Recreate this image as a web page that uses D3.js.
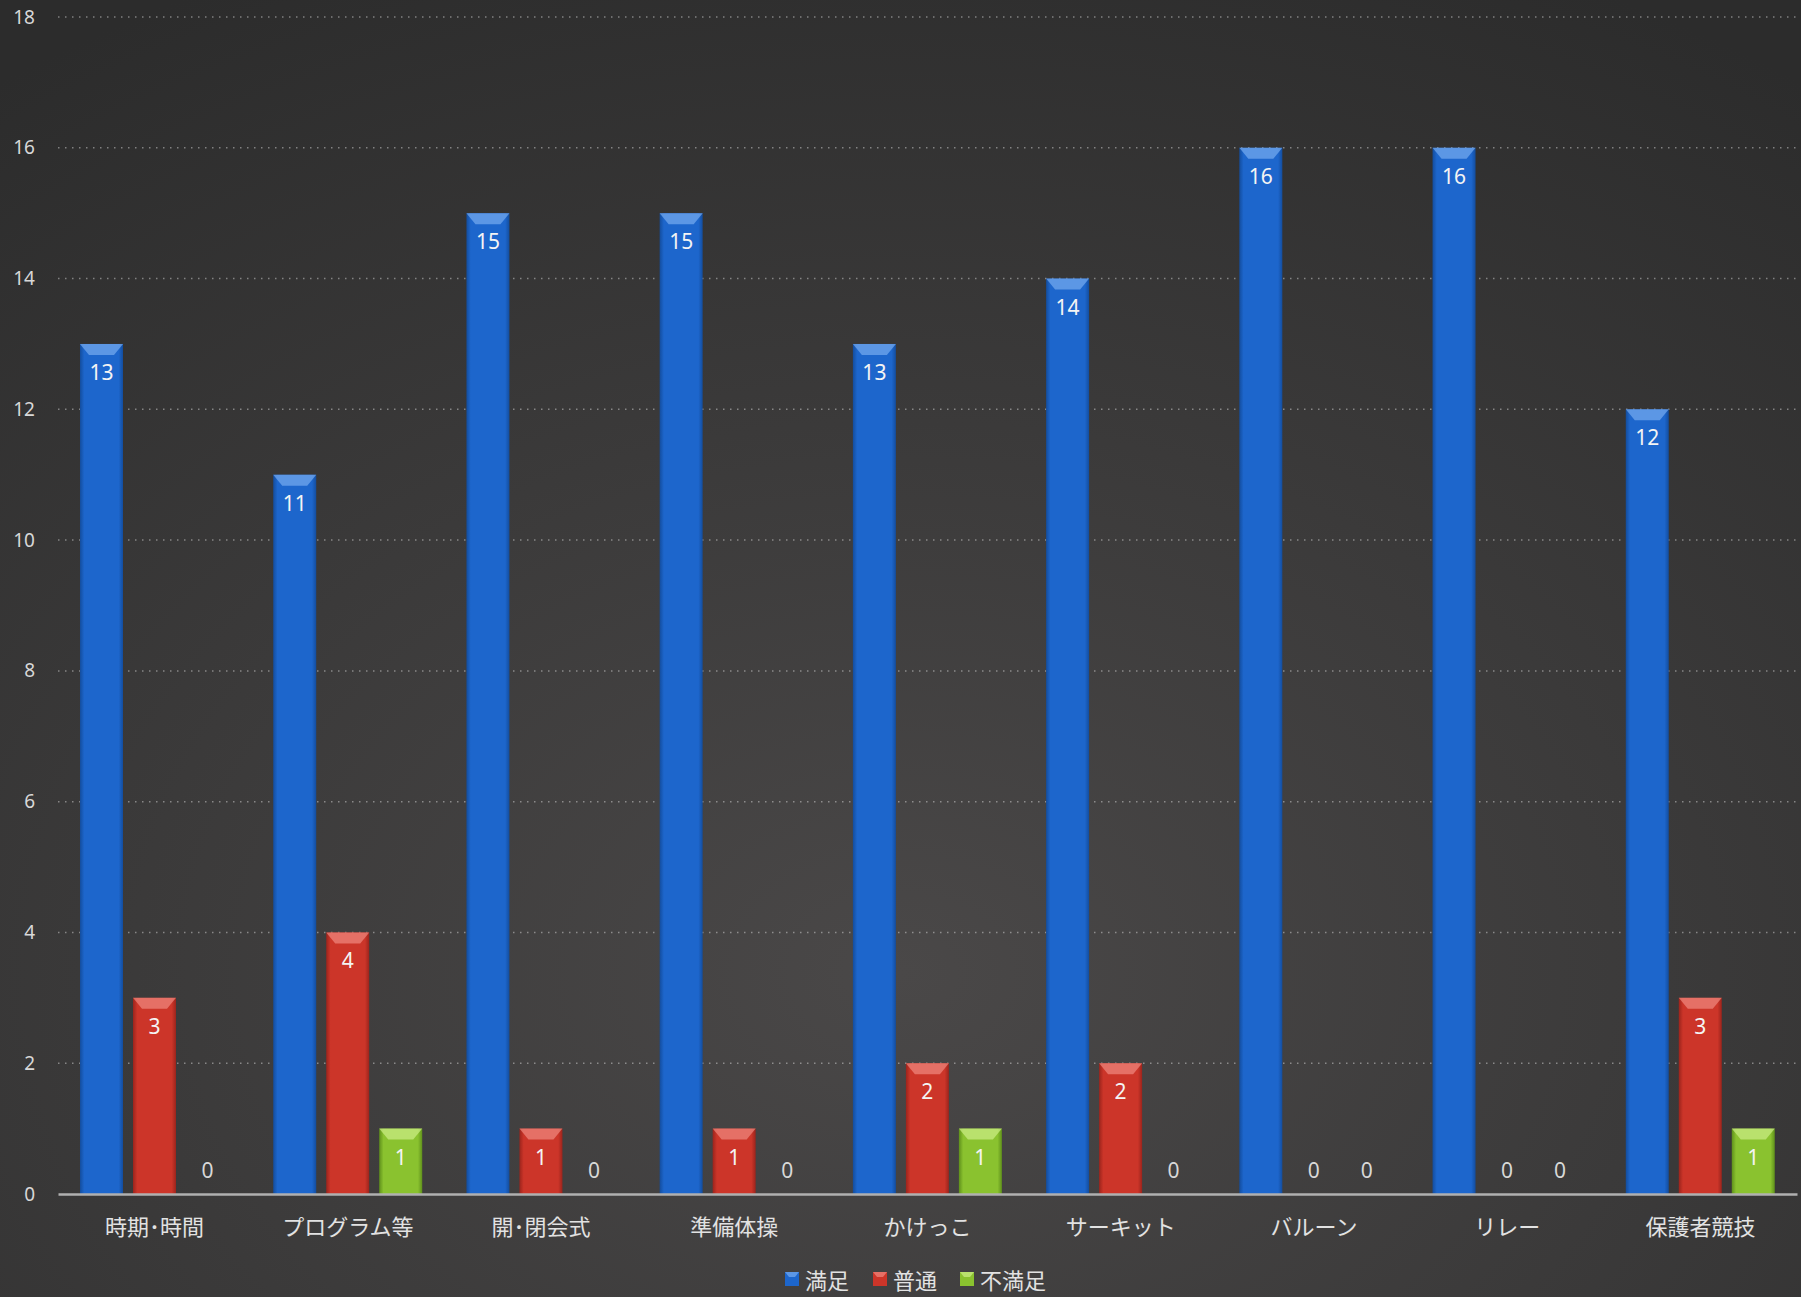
<!DOCTYPE html>
<html><head><meta charset="utf-8">
<script src="https://cdn.jsdelivr.net/npm/d3@7"></script>
<style>html,body{margin:0;padding:0;background:#333;}svg{display:block;}</style>
</head><body>
<svg id="chart" width="1801" height="1297"></svg>
<script>
const categories = ["時期･時間","プログラム等","開･閉会式","準備体操","かけっこ","サーキット","バルーン","リレー","保護者競技"];
const seriesNames = ["満足","普通","不満足"];
const manzoku = [13,11,15,15,13,14,16,16,12];
const futsuu = [3,4,1,1,2,2,0,0,3];
const fumanzoku = [0,1,0,0,1,0,0,0,1];
const yTicks = [0,2,4,6,8,10,12,14,16,18];
const seriesValues = [manzoku, futsuu, fumanzoku];
const colors = ["#1d66cc","#cc3529","#8ac22f"];
const lightColors = ["#78acef","#f08a80","#cdee88"];
const darkColors = ["#134d9e","#9b241c","#5f901b"];

(function(){
const svg = d3.select("#chart");
const W = 1801, H = 1297;
const defs = svg.append("defs");
const bg = defs.append("radialGradient").attr("id","bg").attr("cx","50%").attr("cy","75%").attr("r","85%");
bg.append("stop").attr("offset","0%").attr("stop-color","#4a4848");
bg.append("stop").attr("offset","100%").attr("stop-color","#2c2c2c");
svg.append("rect").attr("width",W).attr("height",H).attr("fill","url(#bg)");

seriesNames.forEach((s,i)=>{
  const g = defs.append("linearGradient").attr("id","g"+i).attr("x1","0").attr("x2","1").attr("y1","0").attr("y2","0");
  g.append("stop").attr("offset","0%").attr("stop-color",darkColors[i]);
  g.append("stop").attr("offset","10%").attr("stop-color",colors[i]);
  g.append("stop").attr("offset","90%").attr("stop-color",colors[i]);
  g.append("stop").attr("offset","100%").attr("stop-color",darkColors[i]);
});

const pLeft = 58, pRight = 1797, pTop = 17, pBottom = 1194;
const y = d3.scaleLinear().domain([0,18]).range([pBottom, pTop]);
const x0 = d3.scaleBand().domain(categories).range([pLeft, pRight]).padding(0);
const x1 = d3.scaleBand().domain(seriesNames).range([22, 171]).paddingInner(10/53).paddingOuter(0);

const font = "'Noto Sans CJK JP','Noto Sans',sans-serif";

// gridlines
svg.append("g").selectAll("line").data(yTicks.filter(d=>d>0)).join("line")
  .attr("x1",pLeft).attr("x2",pRight).attr("y1",d=>y(d)).attr("y2",d=>y(d))
  .attr("stroke","rgba(230,230,230,0.45)").attr("stroke-width",1.5).attr("stroke-dasharray","1.5,5.5");

// y axis labels
const yAxis = d3.axisLeft(y).tickValues(yTicks).tickSize(0).tickPadding(0);
const ya = svg.append("g").attr("transform","translate(35,0)").call(yAxis);
ya.select(".domain").remove();
ya.selectAll("text").attr("fill","#d8d8d8").attr("font-size",19).attr("font-family","'Noto Sans',sans-serif");

// bars
const groups = svg.append("g").selectAll("g").data(categories).join("g")
  .attr("transform",d=>`translate(${x0(d)},0)`);

groups.each(function(cat, ci){
  const g = d3.select(this);
  seriesNames.forEach((s, si)=>{
    const v = seriesValues[si][ci];
    const bx = x1(s), bw = x1.bandwidth();
    if (v > 0) {
      const ty = y(v);
      g.append("rect").attr("x",bx).attr("y",ty).attr("width",bw).attr("height",pBottom-ty)
        .attr("fill",`url(#g${si})`);
      g.append("path").attr("d",`M${bx},${ty}L${bx+bw},${ty}L${bx+bw-9},${ty+11}L${bx+9},${ty+11}Z`)
        .attr("fill",lightColors[si]).attr("opacity",0.7);
      g.append("text").attr("x",bx+bw/2).attr("y",ty+28).attr("text-anchor","middle")
        .attr("dominant-baseline","central").attr("fill","#f4f4f4").attr("font-size",21)
        .attr("font-family","'Noto Sans',sans-serif").text(v);
    } else {
      g.append("text").attr("x",bx+bw/2).attr("y",y(0)-24).attr("text-anchor","middle")
        .attr("dominant-baseline","central").attr("fill","#d8d8d8").attr("font-size",21)
        .attr("font-family","'Noto Sans',sans-serif").text(v);
    }
  });
});

// x axis
const xAxis = d3.axisBottom(x0).tickSize(0).tickPadding(0);
const xa = svg.append("g").attr("transform",`translate(0,${pBottom})`).call(xAxis);
xa.select(".domain").attr("stroke","#b0b0b0").attr("stroke-width",2.5);
xa.selectAll("text").attr("fill","#e2e2e2").attr("font-size",22).attr("font-family",font)
  .attr("dy",null).attr("y",31).attr("dominant-baseline","central");

// legend
const legendX = [785, 873, 960];
const lg = svg.append("g").selectAll("g").data(seriesNames).join("g")
  .attr("transform",(d,i)=>`translate(${legendX[i]},1279)`);
lg.append("rect").attr("x",0).attr("y",-7).attr("width",14).attr("height",14).attr("fill",(d,i)=>colors[i]);
lg.append("path").attr("d","M0,-7L14,-7L10,-2L4,-2Z").attr("fill",(d,i)=>lightColors[i]).attr("opacity",0.7);
lg.append("text").attr("x",20).attr("y",0).attr("dominant-baseline","central").attr("fill","#e2e2e2")
  .attr("font-size",22).attr("font-family",font).text(d=>d);
})();
</script>
</body></html>
